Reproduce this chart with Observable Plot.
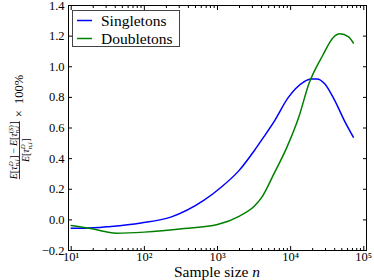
<!DOCTYPE html>
<html><head><meta charset="utf-8">
<script src="https://cdn.jsdelivr.net/npm/d3@7"></script>
<script src="https://cdn.jsdelivr.net/npm/@observablehq/plot@0.6"></script>
<style>
html,body{margin:0;padding:0;background:#fff}
#chart svg{display:block}
</style></head><body><div id="chart"></div>
<script>
const seriesNames = ["Singletons", "Doubletons"];
const seriesColors = ["#0000ff", "#008000"];
const nSingletons = [10, 15, 35, 90, 230, 640, 1100, 1950, 3160, 4270, 5900, 9300, 15000, 19000, 23000, 29000, 40000, 54000, 72000];
const vSingletons = [-0.055, -0.055, -0.043, -0.02, 0.018, 0.125, 0.21, 0.32, 0.45, 0.54, 0.64, 0.80, 0.90, 0.92, 0.92, 0.89, 0.78, 0.65, 0.54];
const nDoubletons = [10, 20, 30, 42, 100, 350, 1000, 2000, 3200, 4000, 5900, 8900, 12900, 17800, 27500, 38000, 47000, 62000, 72000];
const vDoubletons = [-0.037, -0.06, -0.078, -0.087, -0.08, -0.057, -0.03, 0.025, 0.09, 0.145, 0.30, 0.475, 0.67, 0.89, 1.075, 1.19, 1.215, 1.195, 1.155];
const yTicks = [-0.2, 0, 0.2, 0.4, 0.6, 0.8, 1.0, 1.2, 1.4];
const xMajorTicks = [10, 100, 1000, 10000, 100000];
const xTickLabels = ["10¹", "10²", "10³", "10⁴", "10⁵"];
const xMinorTicks = [];
for (const p of [10, 100, 1000, 10000]) for (let k = 2; k <= 9; k++) xMinorTicks.push(k * p);
const xLabel = "Sample size ";
const xLabelVar = "n";

const rows = [
  ...nSingletons.map((n, i) => ({series: seriesNames[0], n, v: vSingletons[i]})),
  ...nDoubletons.map((n, i) => ({series: seriesNames[1], n, v: vDoubletons[i]}))
];

const W = 374, H = 280, mL = 68, mR = 8, mT = 5, mB = 30;
const fmt = d3.format(".1f");

const chart = Plot.plot({
  width: W, height: H,
  marginLeft: mL, marginRight: mR, marginTop: mT, marginBottom: mB,
  style: {fontFamily: "Liberation Serif", fontSize: "12.5px", background: "white", color: "black"},
  x: {type: "log", domain: [9.18, 108900]},
  y: {domain: [-0.2, 1.4]},
  color: {domain: seriesNames, range: seriesColors},
  marks: [
    Plot.line(rows, {x: "n", y: "v", stroke: "series", z: "series", strokeWidth: 1.5, curve: "monotone-x"}),
    Plot.frame({stroke: "black", strokeWidth: 1}),
    Plot.axisY(yTicks, {anchor: "left", tickSize: 0, tickPadding: 4, tickFormat: d => fmt(d), label: null}),
    Plot.axisY(yTicks, {anchor: "left", tickSize: -4, fill: "none", label: null}),
    Plot.axisY(yTicks, {anchor: "right", tickSize: -4, fill: "none", label: null}),
    Plot.axisX(xMajorTicks, {anchor: "bottom", tickSize: 0, tickPadding: 2, tickFormat: d => xTickLabels[xMajorTicks.indexOf(d)], label: null}),
    Plot.axisX(xMajorTicks, {anchor: "bottom", tickSize: -4, fill: "none", label: null}),
    Plot.axisX(xMajorTicks, {anchor: "top", tickSize: -4, fill: "none", label: null}),
    Plot.axisX(xMinorTicks, {anchor: "bottom", tickSize: -2, fill: "none", label: null}),
    Plot.axisX(xMinorTicks, {anchor: "top", tickSize: -2, fill: "none", label: null})
  ]
});
document.getElementById("chart").appendChild(chart);
const svg = d3.select(chart);

// x label
const xl = svg.append("text").attr("x", (mL + W - mR) / 2).attr("y", 277)
  .attr("text-anchor", "middle").attr("font-family", "Liberation Serif").attr("font-size", 15.5).attr("fill", "black");
xl.append("tspan").text(xLabel);
xl.append("tspan").attr("font-style", "italic").text(xLabelVar);

// y label: fraction formula, rotated
function mathRun(g, pieces, size, y0) {
  let x = 0;
  for (const p of pieces) {
    if (p.sup !== undefined || p.sub !== undefined) {
      const s2 = size * 0.7;
      let w = 0;
      if (p.sup) {
        const t = g.append("text").attr("x", x).attr("y", y0 - size * 0.4).attr("font-size", s2);
        for (const [s, it] of p.sup) t.append("tspan").attr("font-style", it ? "italic" : null).text(s);
        w = Math.max(w, t.node().getComputedTextLength());
      }
      if (p.sub) {
        const t = g.append("text").attr("x", x).attr("y", y0 + size * 0.25).attr("font-size", s2);
        for (const [s, it] of p.sub) t.append("tspan").attr("font-style", it ? "italic" : null).text(s);
        w = Math.max(w, t.node().getComputedTextLength());
      }
      x += w + 0.6;
    } else {
      const t = g.append("text").attr("x", x).attr("y", y0).attr("font-size", size)
        .attr("font-style", p.it ? "italic" : null).text(p.t);
      x += t.node().getComputedTextLength();
    }
  }
  return x;
}
const termD = [{t: "E", it: true}, {t: "["}, {t: "τ", it: true}, {sup: [["D", true]], sub: [["n", true], [",", false], ["i", true]]}, {t: "]"}];
const termS = [{t: "E", it: true}, {t: "["}, {t: "τ", it: true}, {sup: [["(", false], ["S", true], [")", false]], sub: [["n", true], [",", false], ["i", true]]}, {t: "]"}];
const fs = 9.8, barX = 19.5, cy = 127;
const lab = svg.append("g").attr("font-family", "Liberation Serif").attr("fill", "black").attr("text-anchor", "start")
  .attr("transform", `translate(${barX},${cy}) rotate(-90)`);
const num = lab.append("g");
const wNum = mathRun(num, termD.concat([{t: "\u2009−\u2009"}], termS), fs, -2.5);
const den = lab.append("g");
const wDen = mathRun(den, termD, fs, fs * 0.72 + 2.5);
const tail = lab.append("g");
const wTail = mathRun(tail, [{t: "×\u2002100%"}], 12.5, 3.8);
const wf = Math.max(wNum, wDen), gap = 4;
const u0 = -(wf + gap + wTail) / 2;
num.attr("transform", `translate(${u0 + (wf - wNum) / 2},0)`);
den.attr("transform", `translate(${u0 + (wf - wDen) / 2},0)`);
lab.append("rect").attr("x", u0).attr("y", -0.4).attr("width", wf).attr("height", 0.8).attr("fill", "black");
tail.attr("transform", `translate(${u0 + wf + gap},0)`);

// legend
const lg = svg.append("g").attr("font-family", "Liberation Serif").attr("font-size", 15.5).attr("text-anchor", "start");
lg.append("rect").attr("x", 72.5).attr("y", 10.5).attr("width", 107).attr("height", 36)
  .attr("fill", "white").attr("stroke", "#444").attr("stroke-width", 1);
seriesNames.forEach((name, i) => {
  const yy = 20.5 + i * 18;
  lg.append("line").attr("x1", 77).attr("x2", 92).attr("y1", yy).attr("y2", yy)
    .attr("stroke", seriesColors[i]).attr("stroke-width", 1.5);
  lg.append("text").attr("x", 101).attr("y", yy + 5).attr("fill", "black").text(name);
});
</script></body></html>
